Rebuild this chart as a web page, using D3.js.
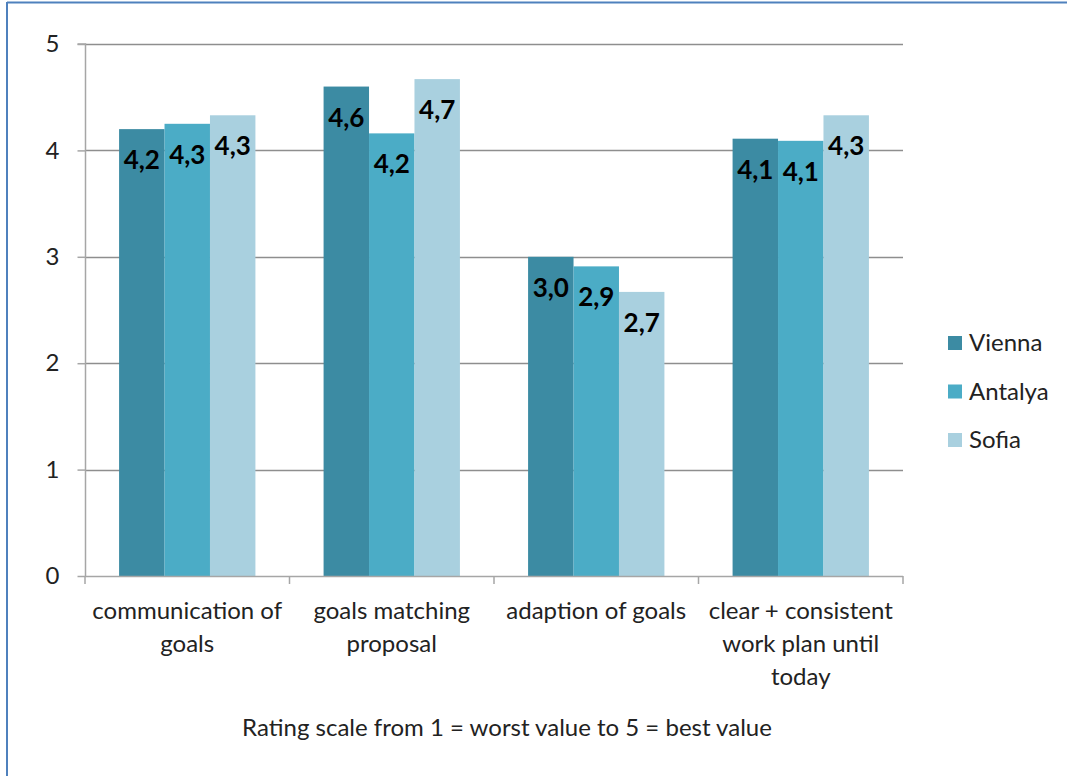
<!DOCTYPE html>
<html><head><meta charset="utf-8">
<script src="https://cdn.jsdelivr.net/npm/d3@7"></script>
<style>
html,body{margin:0;padding:0;background:#fff;}
svg{display:block;font-family:Lato,"Open Sans",sans-serif;}
</style></head>
<body><svg id="c" width="1067" height="776"></svg>
<script>
const categories = [["communication of","goals"],["goals matching","proposal"],["adaption of goals"],["clear + consistent","work plan until","today"]];
const seriesNames = ["Vienna","Antalya","Sofia"];
const vienna = [4.20, 4.60, 3.00, 4.11];
const antalya = [4.25, 4.16, 2.91, 4.09];
const sofia = [4.33, 4.67, 2.67, 4.33];
const labelsVienna = ["4,2","4,6","3,0","4,1"];
const labelsAntalya = ["4,3","4,2","2,9","4,1"];
const labelsSofia = ["4,3","4,7","2,7","4,3"];
const yTicks = [0,1,2,3,4,5];
const colors = ["#3C8BA3","#4BACC6","#A9D0DF"];
const subtitle = "Rating scale from 1 = worst value to 5 = best value";

const values = [vienna, antalya, sofia];
const labels = [labelsVienna, labelsAntalya, labelsSofia];

const svg = d3.select("#c");
// border
svg.append("line").attr("x1",7).attr("y1",2.5).attr("x2",1067).attr("y2",2.5).attr("stroke","#4F81BD").attr("stroke-width",2);
svg.append("line").attr("x1",7).attr("y1",2).attr("x2",7).attr("y2",776).attr("stroke","#4F81BD").attr("stroke-width",2);

const L=85, R=903, T=44, B=576;
const x = d3.scaleBand().domain(d3.range(categories.length)).range([L,R]).paddingInner(0).paddingOuter(0);
const bw = x.bandwidth()/(3+1.5);
const y = d3.scaleLinear().domain([0,5]).range([B,T]);

// gridlines
svg.append("g").selectAll("line").data(yTicks.filter(d=>d>0)).join("line")
  .attr("x1",L).attr("x2",R).attr("y1",d=>Math.round(y(d))+0.5).attr("y2",d=>Math.round(y(d))+0.5)
  .attr("stroke","#8E8E8E").attr("stroke-width",1.5);

// bars
values.forEach((vals,s)=>{
  svg.append("g").selectAll("rect").data(vals).join("rect")
    .attr("x",(d,i)=>x(i)+bw*0.75+s*bw)
    .attr("width",bw)
    .attr("y",d=>y(d))
    .attr("height",d=>B-y(d))
    .attr("fill",colors[s]);
  svg.append("g").selectAll("text").data(vals).join("text")
    .attr("x",(d,i)=>x(i)+bw*0.75+s*bw+bw/2)
    .attr("y",d=>y(d)+40)
    .attr("text-anchor","middle")
    .attr("font-size",26).attr("font-weight","bold").attr("fill","#000")
    .text((d,i)=>labels[s][i]);
});

// y axis
const yAxis = d3.axisLeft(y).tickValues(yTicks).tickSize(8).tickPadding(18).tickFormat(d3.format("d"));
const gy = svg.append("g").attr("transform",`translate(${L+0.5},0)`).call(yAxis);
gy.select(".domain").attr("stroke","#A6A6A6").attr("stroke-width",1.5).attr("d",`M-8,${y(5)}H0V${B}`);
gy.selectAll(".tick line").attr("stroke","#A6A6A6").attr("stroke-width",1.5);
gy.selectAll(".tick text").attr("font-size",24).attr("fill","#222").attr("font-family","Lato,sans-serif");

// x axis
svg.append("line").attr("x1",L).attr("x2",R).attr("y1",B+0.5).attr("y2",B+0.5).attr("stroke","#A6A6A6").attr("stroke-width",1.5);
svg.append("g").selectAll("line").data(d3.range(categories.length+1)).join("line")
  .attr("x1",i=>L+i*x.bandwidth()).attr("x2",i=>L+i*x.bandwidth())
  .attr("y1",B).attr("y2",B+8).attr("stroke","#A6A6A6").attr("stroke-width",1.5);

// category labels
categories.forEach((lines,i)=>{
  const t = svg.append("text").attr("text-anchor","middle").attr("font-size",24).attr("fill","#222");
  lines.forEach((ln,j)=>{
    t.append("tspan").attr("x",x(i)+x.bandwidth()/2).attr("y",619+j*33).text(ln);
  });
});

// legend
seriesNames.forEach((n,s)=>{
  const yy = 343 + s*48.5;
  svg.append("rect").attr("x",948).attr("y",yy-7).attr("width",14).attr("height",14).attr("fill",colors[s]);
  svg.append("text").attr("x",969).attr("y",yy+8).attr("font-size",24).attr("fill","#222").text(n);
});

// subtitle
svg.append("text").attr("x",507).attr("y",736).attr("text-anchor","middle").attr("font-size",24).attr("fill","#222").text(subtitle);
</script></body></html>
